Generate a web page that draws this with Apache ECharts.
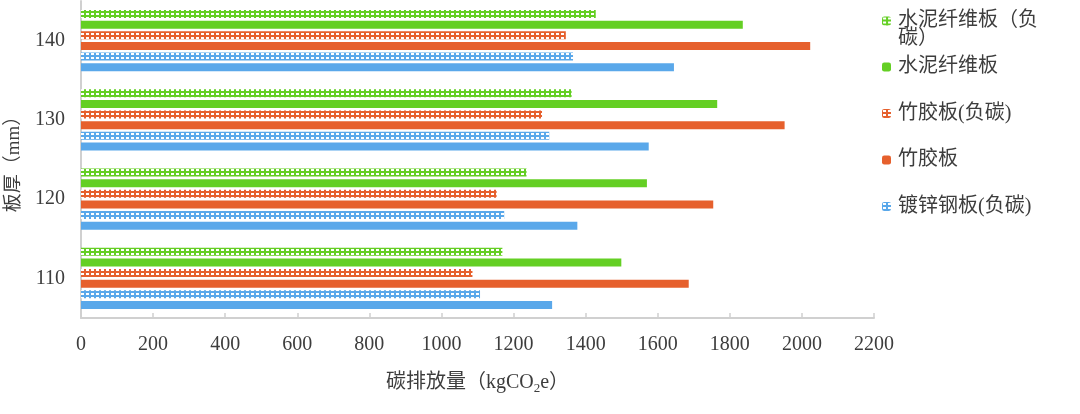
<!DOCTYPE html>
<html><head><meta charset="utf-8">
<script src="https://cdn.jsdelivr.net/npm/echarts@6/dist/echarts.min.js"></script>
<style>html,body{margin:0;padding:0;background:#fff}#c{width:1080px;height:414px}</style>
</head><body><div id="c"></div>
<script>
const categories = ['110', '120', '130', '140'];
const seriesNames = ['水泥纤维板（负碳）', '水泥纤维板', '竹胶板(负碳)', '竹胶板', '镀锌钢板(负碳)', '镀锌钢板'];
const cementNeg = [1169, 1236, 1361, 1428];
const cement = [1499, 1570, 1765, 1836];
const bambooNeg = [1086, 1153, 1279, 1345];
const bamboo = [1686, 1754, 1952, 2023];
const steelNeg = [1107, 1174, 1299, 1365];
const steel = [1307, 1377, 1575, 1645];
const xTicks = [0, 200, 400, 600, 800, 1000, 1200, 1400, 1600, 1800, 2000, 2200];

const BLUE = '#5aa8ea', ORANGE = '#e6602d', GREEN = '#64cf24';
const FONT = '"Liberation Serif","Noto Sans CJK SC",serif';
const TXT = '#3d3d3d';

function pattern(color) {
  const c = document.createElement('canvas');
  c.width = 5; c.height = 4;
  const g = c.getContext('2d');
  g.fillStyle = color; g.fillRect(0, 0, 5, 4);
  g.fillStyle = '#ffffff'; g.fillRect(1, 1, 3, 2);
  return { image: c, repeat: 'repeat' };
}

const values = [cementNeg, cement, bambooNeg, bamboo, steelNeg, steel];
const colors = [pattern(GREEN), GREEN, pattern(ORANGE), ORANGE, pattern(BLUE), BLUE];

const chart = echarts.init(document.getElementById('c'), null, { renderer: 'canvas' });
chart.setOption({
  animation: false,
  backgroundColor: '#fff',
  grid: { left: 81, right: 206, top: 1, bottom: 96, containLabel: false, outerBoundsMode: 'none' },
  xAxis: {
    type: 'value', min: 0, max: 2200, interval: 200,
    axisLine: { show: true, lineStyle: { color: '#d0d0d0', width: 2 } },
    axisTick: { show: true, inside: true, length: 5, lineStyle: { color: '#d0d0d0', width: 1.5 } },
    splitLine: { show: false },
    axisLabel: { color: TXT, fontSize: 20, fontFamily: FONT, margin: 17,
      formatter: v => xTicks.includes(v) ? String(v) : '' },
    name: '碳排放量（kgCO{sub|2}e）',
    nameLocation: 'middle', nameGap: 52,
    nameTextStyle: { color: TXT, fontSize: 20, fontFamily: FONT,
      rich: { sub: { fontSize: 13, fontFamily: FONT, color: TXT, padding: [12, 0, 0, 0] } } }
  },
  yAxis: {
    type: 'category', data: categories,
    axisLine: { show: true, lineStyle: { color: '#d0d0d0', width: 2 } },
    axisTick: { show: false },
    axisLabel: { color: TXT, fontSize: 20, fontFamily: FONT, margin: 16 },
    name: '板厚（mm）', nameLocation: 'middle', nameRotate: 90, nameGap: 57,
    nameTextStyle: { color: TXT, fontSize: 19, fontFamily: FONT }
  },
  legend: [
    {
      orient: 'vertical', left: 877, top: 6, itemWidth: 9, itemHeight: 9, itemGap: 27,
      selectedMode: false, data: [seriesNames[0]],
      formatter: () => '水泥纤维板（负',
      textStyle: { color: TXT, fontSize: 20, fontFamily: FONT, padding: [0, 0, 0, 2] }
    },
    {
      orient: 'vertical', left: 877, top: 52, itemWidth: 9, itemHeight: 9, itemGap: 26.5,
      selectedMode: false, data: [seriesNames[1], seriesNames[2], seriesNames[3], seriesNames[4]],
      textStyle: { color: TXT, fontSize: 20, fontFamily: FONT, padding: [0, 0, 0, 2] }
    }
  ],
  graphic: [{
    type: 'text', left: 898, top: 29,
    style: { text: '碳）', fill: TXT, fontSize: 20, fontFamily: FONT }
  }],
  series: seriesNames.map((n, i) => ({
    name: n, type: 'bar', data: values[i],
    barWidth: 8, barGap: '33%',
    itemStyle: { color: colors[i] }
  }))
});
</script></body></html>
